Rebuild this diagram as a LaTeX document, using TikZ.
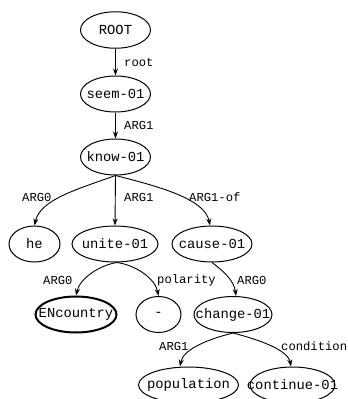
\documentclass[tikz,border=0pt]{standalone}
\usepackage{fontspec}
\setmonofont{Liberation Mono}
\usetikzlibrary{shapes.geometric,arrows.meta}
% text of zero width, so that the ellipse takes exactly its given size
\newcommand{\cname}[1]{\makebox[0pt]{#1}}
\begin{document}
\begin{tikzpicture}[x=1pt,y=-1pt,
  concept/.style={ellipse,draw,line width=1pt,inner sep=0pt,
    font=\fontsize{13.8}{14}\selectfont\ttfamily},
  named/.style={concept,line width=2pt},
  rel/.style={anchor=west,inner sep=0pt,
    font=\fontsize{12.2}{13}\selectfont\ttfamily},
  edge/.style={draw,line width=0.9pt,-{Stealth[length=7pt,width=5pt]}}]
\useasboundingbox (0,0) rectangle (348,399);

% concept nodes
\node[concept,minimum width=70pt,minimum height=36.5pt] (root) at (115.5,30) {\cname{ROOT}};
\node[concept,minimum width=70pt,minimum height=36pt] (seem) at (115.5,94) {\cname{seem-01}};
\node[concept,minimum width=70pt,minimum height=36pt] (know) at (115.5,157) {\cname{know-01}};
\node[concept,minimum width=51pt,minimum height=36pt] (he) at (34.5,244) {\cname{he}};
\node[concept,minimum width=86pt,minimum height=36pt] (unite) at (115,244) {\cname{unite-01}};
\node[concept,minimum width=80pt,minimum height=36pt] (cause) at (212,244) {\cname{cause-01}};
\node[named,minimum width=81pt,minimum height=36pt] (country) at (76,314.5) {\cname{ENcountry}};
\node[concept,minimum width=45pt,minimum height=36pt] (neg) at (158.5,314.5) {\cname{-}};
\node[concept,minimum width=78pt,minimum height=36pt] (change) at (233,314.5) {\cname{change-01}};
\node[concept,minimum width=100pt,minimum height=36pt] (pop) at (188.5,385) {\cname{population}};
\node[concept,minimum width=85pt,minimum height=36pt] (cont) at (292.5,385) {\cname{continue-01}};

% relations
\path[edge] (root.south) -- (seem.north);
\node[rel] (l1) at (124,62) {root};
\path[edge] (seem.south) -- (know.north);
\node[rel] (l2) at (124,125) {ARG1};
\path[edge] (know.south) .. controls (75,190) and (40,200) .. (he.north);
\node[rel] (l3) at (22,197) {ARG0};
\path[edge] (know.south) -- (unite.north);
\node[rel] (l4) at (124,197) {ARG1};
\path[edge] (know.south) .. controls (165,188) and (205,200) .. ([xshift=-2pt]cause.north);
\node[rel] (l5) at (189,197) {ARG1-of};
\path[edge] ([xshift=2pt]unite.south) .. controls (100,265) and (80,278) .. (country.north);
\node[rel] (l6) at (43,280) {ARG0};
\path[edge] ([xshift=2pt]unite.south) .. controls (135,265) and (155,278) .. (neg.north);
\node[rel] (l7) at (157,280) {polarity};
\path[edge] (cause.south) .. controls (222,270) and (234,280) .. ([xshift=3pt]change.north);
\node[rel] (l8) at (237,280) {ARG0};
\path[edge] (change.south) .. controls (205,340) and (183,350) .. ([xshift=-8.5pt]pop.north);
\node[rel] (l9) at (159,346) {ARG1};
\path[edge] (change.south) .. controls (260,340) and (288,350) .. ([xshift=-1.5pt]cont.north);
\node[rel] (l10) at (281,346) {condition};
\end{tikzpicture}
\end{document}
